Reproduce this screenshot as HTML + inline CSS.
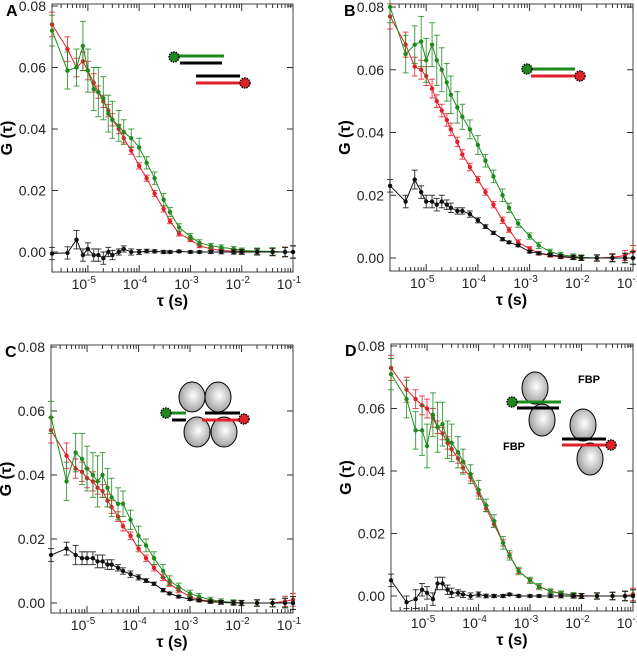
<!DOCTYPE html>
<html><head><meta charset="utf-8">
<style>
body{margin:0;background:#fff;}
svg{display:block;font-family:"Liberation Sans",sans-serif;}
</style></head>
<body>
<svg id="chart" width="637" height="656" viewBox="0 0 637 656">
<defs>
<radialGradient id="ball" cx="0.55" cy="0.45" r="0.6"><stop offset="0" stop-color="#fff"/><stop offset="1" stop-color="#999"/></radialGradient>
</defs>
<g id="panels"></g>
<g id="insets">
  <!-- A -->
  <g>
    <line x1="178" y1="56" x2="224" y2="56" stroke="#1e8a1e" stroke-width="3"/>
    <line x1="180" y1="63" x2="222" y2="63" stroke="#000" stroke-width="3"/>
    <line x1="196" y1="76" x2="240" y2="76" stroke="#000" stroke-width="3"/>
    <line x1="196" y1="83" x2="240" y2="83" stroke="#e0202a" stroke-width="3"/>
    <circle cx="174" cy="57" r="5" fill="#1e8a1e" stroke="#000" stroke-width="1.5" stroke-dasharray="1.5 1"/>
    <circle cx="245" cy="83" r="5" fill="#e0202a" stroke="#000" stroke-width="1.5" stroke-dasharray="1.5 1"/>
  </g>
  <!-- B -->
  <g>
    <line x1="530" y1="69" x2="575" y2="69" stroke="#1e8a1e" stroke-width="3"/>
    <line x1="531" y1="76" x2="577" y2="76" stroke="#e0202a" stroke-width="3"/>
    <circle cx="527" cy="69" r="5" fill="#1e8a1e" stroke="#000" stroke-width="1.5" stroke-dasharray="1.5 1"/>
    <circle cx="580" cy="76" r="5" fill="#e0202a" stroke="#000" stroke-width="1.5" stroke-dasharray="1.5 1"/>
  </g>
  <!-- C -->
  <g>
    <ellipse cx="192" cy="397" rx="13" ry="15" fill="url(#ball)" stroke="#000"/>
    <ellipse cx="218" cy="397" rx="13" ry="15" fill="url(#ball)" stroke="#000"/>
    <ellipse cx="197" cy="432" rx="13" ry="15" fill="url(#ball)" stroke="#000"/>
    <ellipse cx="224" cy="432" rx="13" ry="15" fill="url(#ball)" stroke="#000"/>
    <line x1="168" y1="413" x2="186" y2="413" stroke="#1e8a1e" stroke-width="3"/>
    <line x1="172" y1="420" x2="186" y2="420" stroke="#000" stroke-width="3"/>
    <line x1="205" y1="413" x2="240" y2="413" stroke="#000" stroke-width="3"/>
    <line x1="202" y1="420" x2="240" y2="420" stroke="#e0202a" stroke-width="3"/>
    <circle cx="166" cy="413" r="5" fill="#1e8a1e" stroke="#000" stroke-width="1.5" stroke-dasharray="1.5 1"/>
    <circle cx="244" cy="419" r="5" fill="#e0202a" stroke="#000" stroke-width="1.5" stroke-dasharray="1.5 1"/>
  </g>
  <!-- D -->
  <g>
    <ellipse cx="535" cy="388" rx="13" ry="16" fill="url(#ball)" stroke="#000"/>
    <ellipse cx="542" cy="420" rx="13" ry="16" fill="url(#ball)" stroke="#000"/>
    <line x1="515" y1="402" x2="561" y2="402" stroke="#1e8a1e" stroke-width="3"/>
    <line x1="517" y1="408" x2="559" y2="408" stroke="#000" stroke-width="3"/>
    <circle cx="512" cy="402" r="5" fill="#1e8a1e" stroke="#000" stroke-width="1.5" stroke-dasharray="1.5 1"/>
    <ellipse cx="583" cy="425" rx="13" ry="16" fill="url(#ball)" stroke="#000"/>
    <ellipse cx="590" cy="459" rx="13" ry="16" fill="url(#ball)" stroke="#000"/>
    <line x1="562" y1="439" x2="606" y2="439" stroke="#000" stroke-width="3"/>
    <line x1="562" y1="445" x2="606" y2="445" stroke="#e0202a" stroke-width="3"/>
    <circle cx="611" cy="445" r="5" fill="#e0202a" stroke="#000" stroke-width="1.5" stroke-dasharray="1.5 1"/>
    <text x="589" y="383" font-size="11" font-weight="bold" text-anchor="middle">FBP</text>
    <text x="514" y="450" font-size="11" font-weight="bold" text-anchor="middle">FBP</text>
  </g>
</g>
</svg>
<script>
const tau = [2e-6,4e-6,6e-6,8e-6,1e-5,1.3e-5,1.6e-5,2e-5,2.5e-5,3e-5,4e-5,5e-5,7e-5,1e-4,1.4e-4,2e-4,3e-4,4e-4,6e-4,1e-3,1.5e-3,2.5e-3,4e-3,7e-3,1e-2,2e-2,4e-2,7e-2,1e-1];
const yTicks = [0,0.02,0.04,0.06,0.08];
const yTickLabels = ["0.00","0.02","0.04","0.06","0.08"];
const xTickExps = [-5,-4,-3,-2,-1];
const panelLetters = ["A","B","C","D"];

const greenA = [0.072,0.059,0.060,0.067,0.059,0.053,0.052,0.050,0.045,0.043,0.041,0.039,0.037,0.034,0.029,0.024,0.017,0.013,0.008,0.005,0.003,0.002,0.0015,0.001,0.0005,0.0003,0.0002,0,0];
const redA   = [0.074,0.066,0.060,0.062,0.059,0.055,0.052,0.049,0.046,0.043,0.040,0.037,0.033,0.028,0.024,0.019,0.014,0.010,0.006,0.004,0.002,0.001,0.0005,0.0003,0.0002,0.0001,0,0,0];
const blackA = [-0.0005,-0.0003,0.004,-0.001,0.001,-0.001,-0.001,-0.002,0,-0.001,0,0.001,0,0,0.0003,0.0002,0,0,0.0002,0,0,0,0,0,0,0,0,0,0];
const greenB = [0.080,0.065,0.068,0.069,0.063,0.068,0.063,0.060,0.056,0.052,0.048,0.045,0.041,0.036,0.031,0.026,0.020,0.016,0.011,0.007,0.004,0.002,0.001,0.0005,0.0002,0,0,0,0];
const redB   = [0.077,0.068,0.061,0.060,0.058,0.054,0.050,0.047,0.044,0.041,0.037,0.033,0.029,0.025,0.021,0.017,0.012,0.009,0.005,0.003,0.0015,0.0008,0.0003,0.0001,0,0,0.0002,0.0008,0.002];
const blackB = [0.023,0.018,0.025,0.021,0.018,0.018,0.017,0.018,0.017,0.016,0.015,0.015,0.014,0.012,0.010,0.008,0.006,0.005,0.004,0.002,0.0015,0.001,0.0005,0.0002,0,0,0,0,0];
const greenC = [0.058,0.038,0.047,0.045,0.042,0.040,0.038,0.040,0.036,0.033,0.031,0.031,0.026,0.021,0.018,0.014,0.010,0.007,0.005,0.003,0.002,0.001,0.0005,0.0002,0,0,0,0,0];
const redC   = [0.054,0.046,0.042,0.041,0.039,0.038,0.036,0.035,0.032,0.030,0.027,0.024,0.021,0.017,0.014,0.011,0.008,0.006,0.004,0.002,0.001,0.0006,0.0003,0.0001,0,0,0,0.0005,0.001];
const blackC = [0.015,0.017,0.015,0.014,0.014,0.014,0.013,0.013,0.012,0.012,0.011,0.010,0.009,0.008,0.007,0.006,0.004,0.003,0.002,0.0012,0.0008,0.0004,0.0002,0,0,0,0,0,0];
const greenD = [0.071,0.063,0.053,0.053,0.048,0.058,0.054,0.055,0.050,0.049,0.046,0.043,0.039,0.034,0.029,0.024,0.017,0.013,0.008,0.005,0.003,0.0015,0.0008,0.0003,0,0,0,0,0];
const redD   = [0.073,0.066,0.063,0.061,0.060,0.057,0.054,0.052,0.049,0.047,0.044,0.041,0.038,0.033,0.028,0.023,0.017,0.013,0.008,0.005,0.003,0.0015,0.0008,0.0003,0.0001,0,0,0,0.0005];
const blackD = [0.005,-0.002,-0.001,0.002,0.001,-0.001,0.004,0.004,0.002,0.001,0.001,0.0005,0,0.0005,0,0,0,0.0005,0,0,0,0,0,0,0,0,0,0,0];
const greenErrA = [0.005,0.006,0.006,0.008,0.007,0.007,0.008,0.007,0.006,0.006,0.005,0.004,0.003,0.003,0.002,0.002,0.002,0.0015,0.0012,0.001,0.001,0.0008,0.0008,0.0008,0.0008,0.001,0.0012,0.0015,0.002];
const redErrA = [0.004,0.004,0.003,0.003,0.003,0.003,0.002,0.002,0.002,0.002,0.0015,0.0015,0.0012,0.001,0.001,0.001,0.001,0.0008,0.0008,0.0006,0.0006,0.0005,0.0005,0.0006,0.0007,0.0009,0.0012,0.0016,0.002];
const blackErrA = [0.002,0.002,0.003,0.002,0.002,0.002,0.002,0.002,0.0015,0.0015,0.001,0.001,0.001,0.0008,0.0006,0.0005,0.0005,0.0004,0.0004,0.0004,0.0004,0.0005,0.0006,0.0007,0.0008,0.001,0.0012,0.0015,0.002];

const panels = [
  {left:52, right:293, y08:6, y0:252, top:4, bottom:272, g:greenA, r:redA, k:blackA},
  {left:390, right:633, y08:7, y0:258, top:4, bottom:271, g:greenB, r:redB, k:blackB},
  {left:51, right:293, y08:347, y0:603, top:345, bottom:613, g:greenC, r:redC, k:blackC},
  {left:391, right:633, y08:346, y0:596, top:344, bottom:611, g:greenD, r:redD, k:blackD}
];
const NS = "http://www.w3.org/2000/svg";
const root = document.getElementById('panels');
function mk(tag, attrs, parent){const e=document.createElementNS(NS,tag);for(const k in attrs)e.setAttribute(k,attrs[k]);parent.appendChild(e);return e;}
const LOGMIN=-5.7, LOGMAX=-1;

panels.forEach((p,pi)=>{
  const g = mk('g',{},root);
  
  
  const xs = t => p.left + (Math.log10(t)-LOGMIN)/(LOGMAX-LOGMIN)*(p.right-p.left);
  const ys = v => p.y0 - v/0.08*(p.y0-p.y08);
  // frame
  const fr = mk('rect',{x:p.left,y:p.top,width:p.right-p.left,height:p.bottom-p.top,fill:'none',stroke:'#444','stroke-width':1},g);
  
  
  // y ticks
  yTicks.forEach((v,i)=>{
    const y=ys(v);
    mk('line',{x1:p.left,y1:y,x2:p.left+6,y2:y,stroke:'#333'},g);
    mk('line',{x1:p.right,y1:y,x2:p.right-6,y2:y,stroke:'#333'},g);
    const t=mk('text',{x:p.left-6,y:y+5,'font-size':14,'text-anchor':'end',fill:'#222'},g);
    t.textContent=yTickLabels[i];
    
    
  });
  // x ticks (major + minor)
  for(let e=-6;e<=-1;e++){
    for(let m=1;m<10;m++){
      const lv=e+Math.log10(m);
      if(lv<LOGMIN||lv>LOGMAX+1e-9)continue;
      const x=p.left+(lv-LOGMIN)/(LOGMAX-LOGMIN)*(p.right-p.left);
      const len=m===1?7:4;
      mk('line',{x1:x,y1:p.bottom,x2:x,y2:p.bottom-len,stroke:'#333'},g);
      mk('line',{x1:x,y1:p.top,x2:x,y2:p.top+len,stroke:'#333'},g);
    }
  }
  xTickExps.forEach(e=>{
    const x=xs(Math.pow(10,e));
    const t=mk('text',{x:x-4,y:p.bottom+17,'font-size':14,'text-anchor':'middle',fill:'#222'},g);
    
    
    t.appendChild(document.createTextNode('10'));
    const s=mk('tspan',{dy:-6,'font-size':10},t);
    s.textContent=String(e);
  });
  const xt=mk('text',{x:(p.left+p.right)/2,y:p.bottom+34,'font-size':16,'font-weight':'bold','text-anchor':'middle'},g);
  xt.textContent='τ (s)';
  
  
  const yc=(p.top+p.bottom)/2;
  const yt=mk('text',{x:p.left-40,y:yc,'font-size':16,'font-weight':'bold','text-anchor':'middle',transform:`rotate(-90 ${p.left-40} ${yc})`},g);
  yt.textContent='G (τ)';
  
  
  const pl=mk('text',{x:p.left-46,y:p.top+12,'font-size':16,'font-weight':'bold'},g);
  pl.textContent=panelLetters[pi];
  
  
  // series
  const series=[['red-series',p.r,'#e0202a',redErrA],['green-series',p.g,'#1e8a1e',greenErrA],['black-series',p.k,'#111',blackErrA]];
  series.forEach(([nm,vals,col,err])=>{
    const sg=mk('g',{},g);
    
    
    const pts=vals.map((v,i)=>xs(tau[i]).toFixed(1)+','+ys(v).toFixed(1)).join(' ');
    mk('polyline',{points:pts,fill:'none',stroke:col,'stroke-width':1},sg);
    vals.forEach((v,i)=>{
      const x=xs(tau[i]), e=err[i];
      const y1=ys(v+e), y2=ys(v-e);
      mk('line',{x1:x,y1:y1,x2:x,y2:y2,stroke:col,'stroke-width':1,opacity:0.8},sg);
      mk('line',{x1:x-3,y1:y1,x2:x+3,y2:y1,stroke:col,'stroke-width':1,opacity:0.8},sg);
      mk('line',{x1:x-3,y1:y2,x2:x+3,y2:y2,stroke:col,'stroke-width':1,opacity:0.8},sg);
      const c=mk('circle',{cx:x,cy:ys(v),r:2.2,fill:col},sg);
      
      
    });
  });
});
</script>
</body></html>
